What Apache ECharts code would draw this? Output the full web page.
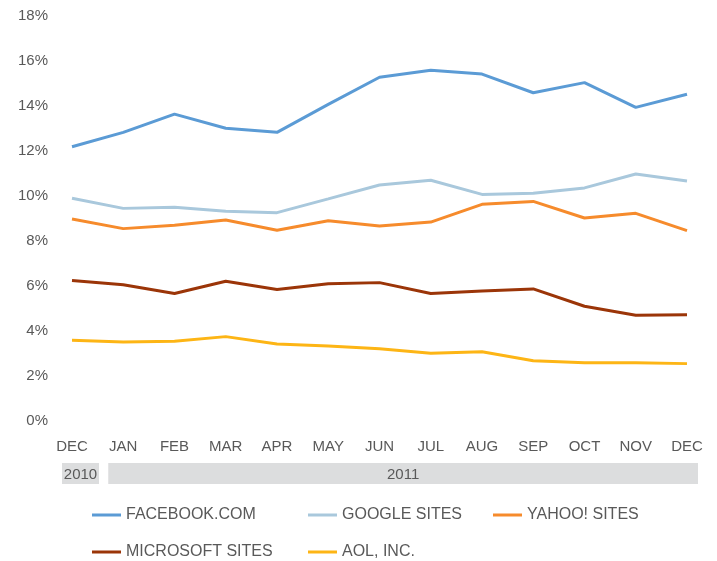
<!DOCTYPE html>
<html>
<head>
<meta charset="utf-8">
<script src="https://cdn.jsdelivr.net/npm/echarts@6/dist/echarts.min.js"></script>
<style>
  html, body { margin: 0; padding: 0; background: #fff; }
  #chart { width: 717px; height: 561px; }
</style>
</head>
<body>
<div id="chart"></div>
<script>
const months = ['DEC','JAN','FEB','MAR','APR','MAY','JUN','JUL','AUG','SEP','OCT','NOV','DEC'];
const yearLabels = ['2010','2011'];
const yTicks = [0, 2, 4, 6, 8, 10, 12, 14, 16, 18];

const facebook  = [12.19, 12.83, 13.64, 13.01, 12.83, 14.07, 15.28, 15.59, 15.42, 14.59, 15.04, 13.94, 14.52];
const google    = [9.90, 9.45, 9.50, 9.32, 9.26, 9.87, 10.49, 10.70, 10.07, 10.12, 10.36, 10.98, 10.67];
const yahoo     = [8.98, 8.55, 8.70, 8.93, 8.48, 8.90, 8.67, 8.84, 9.63, 9.76, 9.02, 9.23, 8.46];
const microsoft = [6.24, 6.06, 5.67, 6.21, 5.84, 6.10, 6.15, 5.67, 5.78, 5.87, 5.10, 4.70, 4.72];
const aol       = [3.59, 3.51, 3.54, 3.75, 3.42, 3.33, 3.21, 3.01, 3.08, 2.68, 2.59, 2.59, 2.55];

const seriesNames = ['FACEBOOK.COM','GOOGLE SITES','YAHOO! SITES','MICROSOFT SITES','AOL, INC.'];
const seriesData = [facebook, google, yahoo, microsoft, aol];
const colors = ['#5B9BD5','#A9C8DC','#F68B2C','#9B3508','#FDB515'];

const FONT = 'Liberation Sans, Arial, Helvetica, sans-serif';
const TXT = '#595959';

const chart = echarts.init(document.getElementById('chart'), null, {renderer: 'canvas'});

const legendCommon = {
  orient: 'vertical',
  icon: 'rect',
  itemWidth: 29,
  itemHeight: 3,
  itemGap: 21,
  top: 507,
  textStyle: { fontFamily: FONT, fontSize: 16, color: TXT, padding: [0,0,0,0] },
  padding: 0
};

chart.setOption({
  animation: false,
  color: colors,
  grid: { left: 72, right: 30, top: 16, bottom: 140, containLabel: false },
  xAxis: {
    type: 'category',
    data: months,
    boundaryGap: false,
    axisLine: { show: false },
    axisTick: { show: false },
    splitLine: { show: false },
    axisLabel: { margin: 18, fontFamily: FONT, fontSize: 15, color: TXT, interval: 0 }
  },
  yAxis: {
    type: 'value',
    min: yTicks[0],
    max: yTicks[yTicks.length - 1],
    interval: 2,
    axisLine: { show: false },
    axisTick: { show: false },
    splitLine: { show: false },
    axisLabel: { margin: 24, fontFamily: FONT, fontSize: 15, color: TXT, formatter: v => v + '%' }
  },
  legend: [
    Object.assign({}, legendCommon, { left: 92, data: [seriesNames[0], seriesNames[3]] }),
    Object.assign({}, legendCommon, { left: 308, data: [seriesNames[1], seriesNames[4]] }),
    Object.assign({}, legendCommon, { left: 493, data: [seriesNames[2]] })
  ],
  series: seriesNames.map((n, i) => ({
    name: n,
    type: 'line',
    data: seriesData[i],
    showSymbol: false,
    symbol: 'none',
    lineStyle: { width: 3, color: colors[i] },
    itemStyle: { color: colors[i] }
  }))
});

// Year band under the month labels, positioned from axis scale
const xFirst = chart.convertToPixel({xAxisIndex: 0}, 0);
const xSecond = chart.convertToPixel({xAxisIndex: 0}, 1);
const xLast = chart.convertToPixel({xAxisIndex: 0}, months.length - 1);
const bandTop = 463, bandH = 21;
const r1x0 = xFirst - 10, r1x1 = xFirst + 27;
const r2x0 = xSecond - 15, r2x1 = xLast + 11;
chart.setOption({
  graphic: [
    { type: 'rect', shape: { x: r1x0, y: bandTop, width: r1x1 - r1x0, height: bandH }, style: { fill: '#DCDDDE' }, silent: true },
    { type: 'rect', shape: { x: r2x0, y: bandTop, width: r2x1 - r2x0, height: bandH }, style: { fill: '#DCDDDE' }, silent: true },
    { type: 'text', x: (r1x0 + r1x1) / 2, y: bandTop + bandH / 2 + 1, style: { text: yearLabels[0], font: '15px ' + FONT, fill: TXT, align: 'center', verticalAlign: 'middle' }, silent: true },
    { type: 'text', x: (r2x0 + r2x1) / 2, y: bandTop + bandH / 2 + 1, style: { text: yearLabels[1], font: '15px ' + FONT, fill: TXT, align: 'center', verticalAlign: 'middle' }, silent: true }
  ]
});
</script>
</body>
</html>
